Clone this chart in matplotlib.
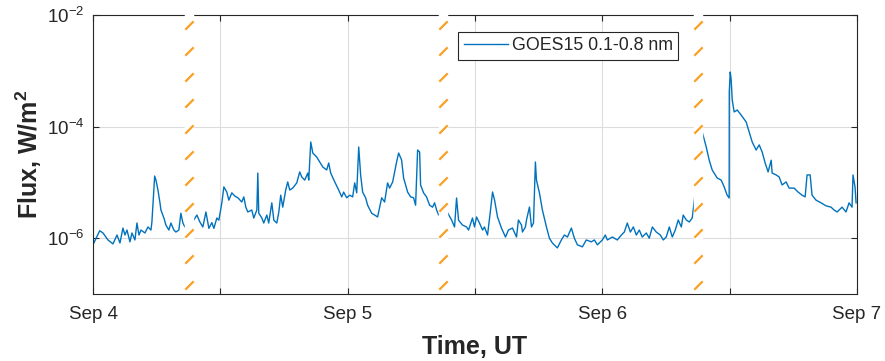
import numpy as np
import pandas as pd
import matplotlib
matplotlib.use('Agg')
import matplotlib.pyplot as plt
import matplotlib.dates as mdates
from matplotlib.ticker import NullLocator
from matplotlib.transforms import blended_transform_factory

# GOES-15 long channel, hours after 2017-09-04 00:00 UT
hours = [
    0.05, 0.63, 0.94, 1.41, 1.88, 2.26, 2.54, 2.82, 3.01, 3.20, 3.48, 3.67,
    3.95, 4.14, 4.33, 4.52, 4.89, 5.18, 5.46, 5.55, 5.81, 5.93, 6.12, 6.31,
    6.40, 6.68, 6.87, 7.15, 7.34, 7.62, 7.81, 8.09, 8.28, 8.47, 8.66,
    9.41, 9.79, 10.07, 10.35, 10.64, 10.92, 11.20, 11.39, 11.67, 11.86,
    12.14, 12.33, 12.61, 12.80, 13.08, 13.36, 13.65, 14.02, 14.21, 14.40,
    14.59, 14.96, 15.15, 15.44, 15.53, 15.62, 15.91, 16.09, 16.38, 16.56,
    16.85, 17.04, 17.32, 17.51, 17.69, 17.88, 18.16, 18.35, 18.54, 18.82,
    19.20, 19.48, 19.67, 19.95, 20.24, 20.33, 20.52, 20.71, 21.08, 21.36,
    21.65, 22.02, 22.21, 22.40, 22.78, 23.15, 23.44, 23.62, 23.91, 24.19,
    24.47, 24.66, 24.85, 25.04, 25.22, 25.41, 25.69, 25.88, 26.26, 26.54,
    26.82, 27.01, 27.20, 27.48, 27.76, 27.95, 28.24, 28.61, 28.80, 29.08,
    29.27, 29.65, 29.93, 30.21, 30.40, 30.59, 30.78, 30.87, 31.15, 31.43,
    31.72, 32.00, 32.19, 32.38, 32.57,
    33.32, 33.79, 34.07, 34.26, 34.45, 34.82, 35.20, 35.39, 35.76, 35.95,
    36.14, 36.42, 36.71, 36.89, 37.18, 37.46, 37.65, 37.84, 38.12, 38.49,
    38.87, 39.15, 39.53, 39.91, 40.09, 40.38, 40.47, 40.75, 40.85, 41.13,
    41.32, 41.51, 41.69, 41.79, 42.07, 42.35, 42.73, 43.01, 43.29, 43.76,
    44.14, 44.42, 44.71, 45.08, 45.36, 45.65, 46.12, 46.49, 46.96, 47.25,
    47.53, 48.00, 48.28, 48.47, 48.94, 49.41, 49.79, 50.07, 50.35, 50.64,
    50.92, 51.20, 51.48, 51.76, 52.14, 52.42, 52.71, 53.08, 53.46, 53.74,
    54.02, 54.31, 54.59, 54.87, 55.15, 55.44, 55.62, 55.91, 56.19, 56.47,
    57.41, 57.79, 58.07, 58.35, 58.82, 59.20, 59.48, 59.76, 59.95, 59.96,
    60.05, 60.14, 60.24, 60.42, 60.71, 61.08, 61.55, 61.84, 62.12, 62.49,
    62.78, 63.06, 63.34, 63.62, 63.91, 64.00, 64.38, 64.66, 64.94, 65.32,
    65.60, 66.07, 66.45, 66.82, 67.11, 67.29, 67.58, 67.76, 68.14, 68.61,
    69.08, 69.55, 69.84, 70.12, 70.59, 70.96, 71.25, 71.53, 71.62, 71.81,
    71.91,
]

# 0.1-0.8 nm flux in units of 1e-6 W/m^2
flux_e6 = [
    0.80, 1.36, 1.24, 0.93, 0.79, 1.14, 0.82, 1.52, 1.14, 1.40, 0.86, 1.24,
    0.93, 1.87, 1.14, 1.40, 1.24, 1.59, 1.40, 1.95, 13.0, 11.0, 7.3, 4.3,
    3.2, 2.3, 1.72, 1.40, 1.87, 1.40, 1.29, 1.40, 2.8, 1.87, 1.59,
    2.0, 2.6, 1.95, 1.59, 2.95, 1.5, 1.9, 1.5, 2.3, 2.1,
    4.3, 8.3, 6.7, 4.8, 6.5, 5.7, 5.3, 4.45, 5.5, 3.6,
    2.95, 3.2, 2.3, 3.2, 14.7, 2.8, 2.3, 1.87, 2.6, 1.87,
    4.3, 2.1, 1.87, 2.95, 5.9, 3.6, 7.3, 10.2, 7.3, 7.9,
    9.8, 15.4, 12.5, 11.0, 14.7, 11.0, 53.0, 33.6, 28.5, 23.2,
    18.9, 16.7, 22.3, 14.7, 10.2, 7.3, 5.5, 6.7, 5.3, 5.9,
    5.5, 9.8, 6.5, 43.0, 13.6, 6.7, 5.3, 3.9, 2.8, 2.6,
    2.4, 3.6, 5.3, 4.45, 9.8, 7.9, 10.2, 23.2, 33.6, 25.2,
    12.0, 6.7, 5.5, 5.3, 3.9, 38.0, 35.0, 9.0, 6.5, 5.5,
    3.9, 3.6, 4.3, 3.2, 2.6,
    3.07, 2.12, 1.59, 5.25, 2.1, 1.72, 1.59, 1.40, 2.30, 1.59,
    2.40, 1.87, 1.40, 1.59, 1.14, 3.20, 6.73, 4.84, 2.40, 1.52,
    1.05, 1.40, 1.52, 1.05, 2.12, 1.72, 1.29, 1.59, 2.12, 3.62,
    1.59, 1.87, 23.2, 11.0, 6.46, 3.20, 1.59, 1.0, 0.82, 0.67,
    0.93, 1.14, 1.05, 1.52, 1.0, 0.76, 0.70, 0.93, 0.86, 0.93,
    0.76, 0.93, 1.14, 0.93, 1.05, 0.93, 1.14, 1.29, 1.87, 1.29,
    1.59, 1.14, 1.40, 1.05, 1.24, 1.0, 1.59, 1.29, 1.14, 0.93,
    1.05, 1.59, 1.05, 1.40, 2.12, 1.59, 2.60, 2.12, 1.95, 2.30,
    80.0, 43.0, 25.0, 16.7, 12.0, 11.0, 8.3, 5.9, 5.25, 417.0,
    951.0, 684.0, 300.0, 183.0, 198.0, 161.0, 121.0, 80.0, 53.0, 38.0,
    47.0, 35.0, 22.3, 15.4, 25.0, 14.7, 13.6, 12.5, 9.0, 10.2,
    7.9, 7.9, 6.7, 5.9, 5.5, 13.6, 13.6, 5.9, 4.8, 4.3,
    3.8, 3.6, 3.2, 2.95, 3.6, 2.95, 4.3, 3.6, 13.6, 8.3,
    4.3,
]

# data gaps marked on the plot
gap_times = ['2017-09-04 09:00', '2017-09-05 09:00', '2017-09-06 09:00']

tick_times = pd.date_range('2017-09-04', '2017-09-07', freq='12h')
tick_labels = ['Sep 4', '', 'Sep 5', '', 'Sep 6', '', 'Sep 7']

plt.rcParams['font.family'] = ['Liberation Sans', 'DejaVu Sans']
plt.rcParams['mathtext.fontset'] = 'custom'
plt.rcParams['mathtext.rm'] = 'Liberation Sans'
plt.rcParams['mathtext.bf'] = 'Liberation Sans:bold'

dark = '#262626'
t0 = pd.Timestamp('2017-09-04')
times = t0 + pd.to_timedelta(hours, unit='h')
flux = np.array(flux_e6) * 1e-6

fig = plt.figure(figsize=(8.85, 3.61), dpi=100)
ax = fig.add_axes([0.1051, 0.1856, 0.8633, 0.7729])

ax.plot(times, flux, color='#0072BD', lw=1.0, label='GOES15 0.1-0.8 nm', zorder=2)

ax.set_yscale('log')
ax.set_ylim(1e-7, 1e-2)
ax.set_yticks([1e-6, 1e-4, 1e-2])
ax.yaxis.set_minor_locator(NullLocator())
ax.set_xlim(tick_times[0], tick_times[-1])
ax.set_xticks(tick_times)
ax.set_xticklabels(tick_labels)
ax.xaxis.set_minor_locator(NullLocator())

ax.set_axisbelow(True)
ax.grid(True, color='#dcdcdc', lw=0.8)
for s in ax.spines.values():
    s.set_color(dark)
    s.set_linewidth(0.8)
ax.tick_params(direction='in', top=True, right=True, length=4, width=0.8,
               color=dark, labelcolor=dark, labelsize=13.5)
ax.tick_params(axis='x', pad=9)
ax.tick_params(axis='y', pad=6)

# broken-time markers: white band with slanted orange dashes
trans = blended_transform_factory(ax.transData, ax.transAxes)
for gt in gap_times:
    x = mdates.date2num(pd.Timestamp(gt))
    ax.plot([x, x], [0.004, 1.02], transform=trans, color='white', lw=6.8,
            solid_capstyle='butt', clip_on=False, zorder=3)
    ax.plot([x] * 11, np.linspace(0.032, 0.964, 11), transform=trans, ls='none',
            marker=[(-1, -1), (1, 1)], ms=6, mfc='none', mec='#F9A025', mew=1.6,
            clip_on=False, zorder=4)

leg = ax.legend(loc='upper left', bbox_to_anchor=(0.478, 0.939), fancybox=False,
                edgecolor=dark, framealpha=1, fontsize=12.8, handlelength=2.5,
                handletextpad=0.2, borderpad=0.3, borderaxespad=0)
leg.get_frame().set_linewidth(0.8)
for txt in leg.get_texts():
    txt.set_color(dark)

ax.set_xlabel('Time, UT', fontsize=18, fontweight='bold', color=dark, labelpad=8)
ax.set_ylabel('Flux, W/m$^\\mathbf{2}$', fontsize=18, fontweight='bold', color=dark,
              labelpad=2)

fig.savefig('out.png', dpi=100)
